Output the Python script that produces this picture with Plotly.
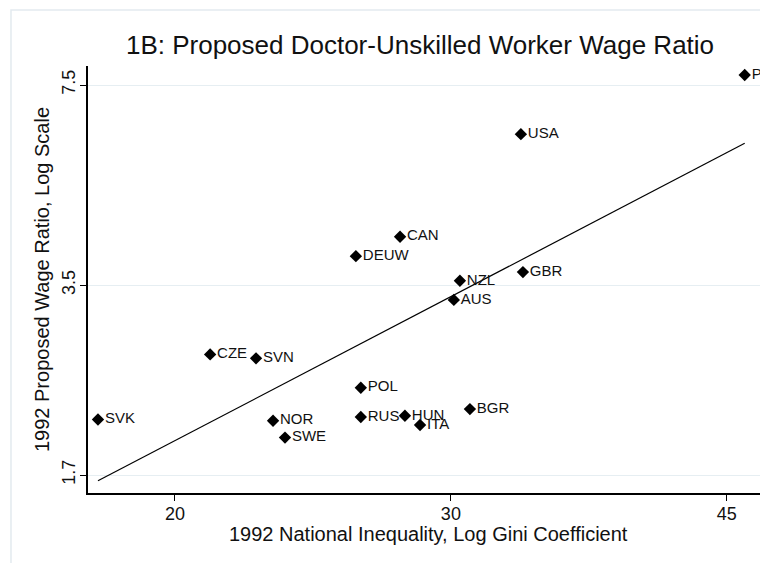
import numpy as np
import plotly.graph_objects as go

# 1992 data
countries = ["PHL", "USA", "CAN", "DEUW", "NZL", "GBR", "AUS", "CZE", "SVN",
             "POL", "BGR", "RUS", "HUN", "ITA", "SVK", "NOR", "SWE"]
gini = [46.2, 33.25, 27.84, 26.09, 30.40, 33.35, 30.13, 21.06, 22.53,
        26.28, 30.85, 26.28, 28.04, 28.67, 17.86, 23.10, 23.51]
wage_ratio = [7.79, 6.22, 4.21, 3.91, 3.56, 3.68, 3.31, 2.69, 2.65,
              2.37, 2.185, 2.12, 2.13, 2.056, 2.10, 2.09, 1.96]

x_ticks = [20, 30, 45]
y_ticks = [1.7, 3.5, 7.5]

# OLS fit in log-log space, drawn over the observed gini range
b, a = np.polyfit(np.log(gini), np.log(wage_ratio), 1)
fit_x = np.array([min(gini), max(gini)])
fit_y = np.exp(a + b * np.log(fit_x))

FONT = "Liberation Sans, Arial, sans-serif"

fig = go.Figure()

fig.add_trace(go.Scatter(
    x=fit_x, y=fit_y, mode="lines",
    line=dict(color="black", width=1.2),
    hoverinfo="skip", showlegend=False,
))

fig.add_trace(go.Scatter(
    x=gini, y=wage_ratio, mode="markers+text",
    text=countries, textposition="middle right",
    textfont=dict(family=FONT, size=15, color="#111111"),
    marker=dict(symbol="diamond", size=9.5, color="black"),
    cliponaxis=False, showlegend=False,
))

# page body has an 8px margin -> figure is 8px smaller and offset
fig.update_layout(
    width=760, height=555,
    margin=dict(l=80, r=8, t=58, b=70),
    paper_bgcolor="white", plot_bgcolor="white",
    font=dict(family=FONT, color="#111111"),
    title=dict(text="1B: Proposed Doctor-Unskilled Worker Wage Ratio",
               x=0.5421, xanchor="center", y=0.933, yanchor="middle",
               font=dict(size=26, color="#111111")),
    shapes=[dict(type="rect", xref="paper", yref="paper",
                 x0=-0.1146, x1=1.2, y0=-0.3, y1=1.131,
                 line=dict(color="#e3eaef", width=1.5), layer="below")],
    annotations=[dict(text="1992 National Inequality, Log Gini Coefficient",
                      xref="paper", yref="paper", x=0.506, y=-0.097,
                      xanchor="center", yanchor="middle", showarrow=False,
                      font=dict(size=20, color="#111111"))],
)

fig.update_xaxes(
    type="log", range=[np.log10(17.60), np.log10(47.25)],
    tickvals=x_ticks, ticktext=[str(v) for v in x_ticks],
    showgrid=False, zeroline=False,
    showline=True, linecolor="black", linewidth=1.5,
    ticks="outside", ticklen=6, tickcolor="black",
    tickfont=dict(size=18), ticklabelstandoff=-2,
)

fig.update_yaxes(
    type="log", range=[np.log10(1.5875), np.log10(8.063)],
    tickvals=y_ticks, ticktext=[str(v) for v in y_ticks],
    tickangle=-90,
    showgrid=True, gridcolor="#e6eef2", gridwidth=1, zeroline=False,
    showline=True, linecolor="black", linewidth=1.5,
    ticks="outside", ticklen=6, tickcolor="black",
    tickfont=dict(size=18), ticklabelstandoff=-2,
    title=dict(text="1992 Proposed Wage Ratio, Log Scale",
               font=dict(size=20), standoff=4),
)

fig.write_html("out.html")
